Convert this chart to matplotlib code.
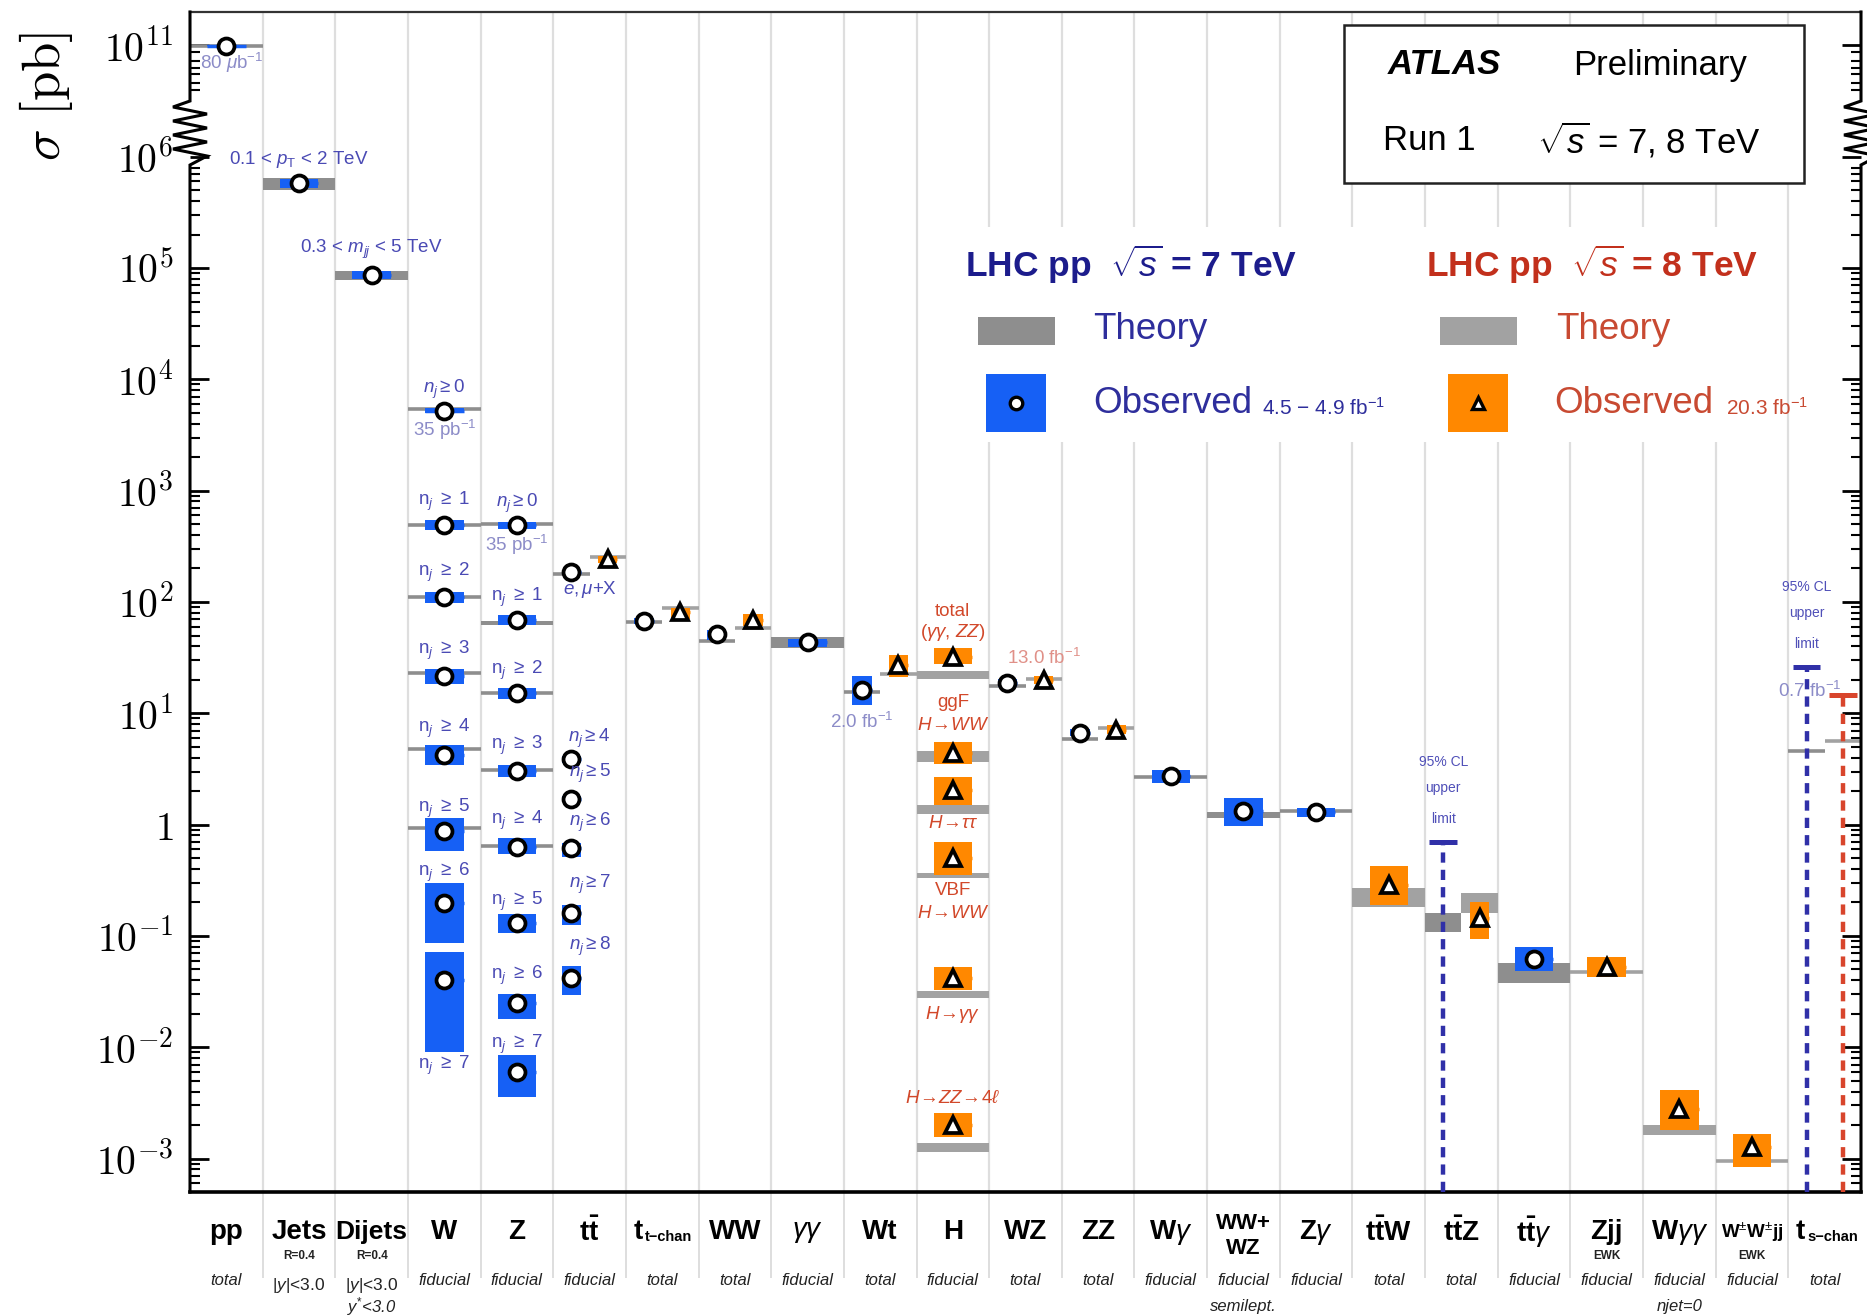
import numpy as np
import matplotlib
matplotlib.use('Agg')
import matplotlib.pyplot as plt
from matplotlib.patches import Rectangle
from matplotlib.lines import Line2D

plt.rcParams['font.family'] = ['Liberation Sans', 'DejaVu Sans']
plt.rcParams['mathtext.fontset'] = 'custom'
plt.rcParams['mathtext.rm'] = 'Liberation Sans'
plt.rcParams['mathtext.it'] = 'Liberation Sans:italic'
plt.rcParams['mathtext.bf'] = 'Liberation Sans:bold'
plt.rcParams['mathtext.sf'] = 'Liberation Sans'

nan = np.nan

# ---------------- categories ----------------
categories = ['pp', 'Jets', 'Dijets', 'W', 'Z', r'$\mathbf{t\bar{t}}$', 't|t\u2212chan',
              'WW', r'$\gamma\gamma$', 'Wt', 'H', 'WZ', 'ZZ', r'W$\gamma$', 'WW+\nWZ', r'Z$\gamma$',
              r'$\mathbf{t\bar{t}}$W', r'$\mathbf{t\bar{t}}$Z', r'$\mathbf{t\bar{t}}\gamma$', 'Zjj',
              r'W$\gamma\gamma$', r'W$^{\pm}$W$^{\pm}$jj', 't|s\u2212chan']
cat_tag = ['', 'R=0.4', 'R=0.4', '', '', '', '', '', '', '', '', '', '', '', '', '', '', '', '',
           'EWK', '', 'EWK', '']
cat_kind = ['total', '', '', 'fiducial', 'fiducial', 'fiducial', 'total', 'total', 'fiducial',
            'total', 'fiducial', 'total', 'total', 'fiducial', 'fiducial', 'fiducial', 'total',
            'total', 'fiducial', 'fiducial', 'fiducial', 'fiducial', 'total']
cat_cut = ['', r'$|y|$<3.0', r'$|y|$<3.0', '', '', '', '', '', '', '', '', '', '', '', '', '', '',
           '', '', '', '', '', '']
cat_cut2 = ['', '', r'$y^{*}$<3.0', '', '', '', '', '', '', '', '', '', '', '', 'semilept.', '',
            '', '', '', '', 'njet=0', '', '']

# ---------------- measurements (pb) ----------------
m_cat = [0, 1, 2,
         3, 3, 3, 3, 3, 3, 3, 3,
         4, 4, 4, 4, 4, 4, 4, 4,
         5, 5, 5, 5, 5, 5, 5,
         6, 6, 7, 7, 8, 9, 9,
         10, 10, 10, 10, 10, 10,
         11, 11, 12, 12, 13, 14, 15, 16, 17, 17, 18, 19, 20, 21, 22, 22]
m_sqrts = [7, 7, 7,
           7, 7, 7, 7, 7, 7, 7, 7,
           7, 7, 7, 7, 7, 7, 7, 7,
           7, 8, 7, 7, 7, 7, 7,
           7, 8, 7, 8, 7, 7, 8,
           8, 8, 8, 8, 8, 8,
           7, 8, 7, 8, 7, 7, 7, 8, 7, 8, 7, 8, 8, 8, 7, 8]
m_obs = [9.5e10, 5.8e5, 8.7e4,
         5.25e3, 494, 111, 21.7, 4.24, 0.877, 0.197, 0.040,
         488, 69.2, 15.2, 3.05, 0.635, 0.132, 0.0248, 0.0060,
         185, 243, 3.85, 1.69, 0.614, 0.16, 0.0417,
         67.9, 82, 51.7, 69, 44, 16.3, 27,
         32.3, 4.4, 2.05, 0.5, 0.042, 0.0020,
         18.8, 20.0, 6.7, 7.1, 2.74, 1.33, 1.30, 0.287, nan, 0.145, 0.062, 0.053, 0.0028,
         0.00126, nan, nan]
m_obs_lo = [9.0e10, 5.25e5, 8.0e4,
            5.0e3, 447, 98, 18.4, 3.40, 0.575, 0.087, 0.0091,
            457, 62.2, 13.4, 2.70, 0.54, 0.107, 0.0178, 0.0036,
            180, 224, 3.6, 1.6, 0.516, 0.126, 0.0295,
            64, 70, 46, 61, 39.8, 12.0, 21.2,
            27.9, 3.52, 1.51, 0.355, 0.0327, 0.00155,
            17.2, 18.3, 6.2, 6.5, 2.37, 0.975, 1.175, 0.190, nan, 0.094, 0.048, 0.043, 0.0018,
            0.00084, nan, nan]
m_obs_hi = [1.0e11, 6.3e5, 9.5e4,
            5.5e3, 541, 123, 25, 5.16, 1.15, 0.30, 0.072,
            525, 76.7, 16.9, 3.44, 0.76, 0.158, 0.030, 0.0085,
            190, 257, 4.1, 1.8, 0.686, 0.19, 0.054,
            72, 89, 56, 78.5, 46.7, 21.6, 33.6,
            38.9, 5.56, 2.69, 0.70, 0.0528, 0.00257,
            20.5, 21.8, 7.2, 7.8, 3.09, 1.75, 1.41, 0.426, nan, 0.202, 0.079, 0.065, 0.0041,
            0.00166, nan, nan]
m_th_lo = [9.5e10, 5.0e5, 7.8e4,
           5.4e3, 490, 111, 23.2, 4.8, 0.927, nan, nan,
           500, 61.7, 15.2, 3.1, 0.64, nan, nan, nan,
           178, 252, nan, nan, nan, nan, nan,
           65.5, 87.9, 45, 58.5, 39, 15.6, 22.5,
           20.4, 3.66, 1.25, 0.33, 0.0278, 0.00115,
           17.7, 20.4, 5.9, 7.36, 2.69, 1.15, 1.33, 0.182, 0.108, 0.16, 0.038, 0.047, 0.00163,
           0.00095, 4.6, 5.6]
m_th_hi = [9.5e10, 6.5e5, 9.4e4,
           5.4e3, 490, 111, 23.2, 4.8, 0.927, nan, nan,
           500, 67.6, 15.2, 3.1, 0.64, nan, nan, nan,
           178, 252, nan, nan, nan, nan, nan,
           65.5, 87.9, 45, 58.5, 48.6, 15.6, 22.5,
           24.0, 4.6, 1.5, 0.37, 0.0318, 0.00138,
           17.7, 20.4, 5.9, 7.36, 2.69, 1.30, 1.33, 0.27, 0.16, 0.243, 0.057, 0.047, 0.0020,
           0.00095, 4.6, 5.6]

# 95% CL upper limits (pb)
lim_cat = [17, 22, 22]
lim_sqrts = [7, 7, 8]
lim_val = [0.70, 26.3, 14.6]

# ---------------- annotations: text, x (category units), sigma (pb), colour key ----------------
annotations = [
    (r'80 $\mu$b$^{-1}$', 0.14, 1.7e10, 'b7l', 'left'),
    (r'0.1 < $p_{\rm T}$ < 2 TeV', 1.5, 9.5e5, 'b7', 'center'),
    (r'0.3 < $m_{jj}$ < 5 TeV', 2.5, 1.46e5, 'b7', 'center'),
    (r'$n_j \geq 0$', 3.5, 8.2e3, 'b7', 'center'),
    (r'35 pb$^{-1}$', 3.5, 3.54e3, 'b7l', 'center'),
    (r'n$_j$ $\geq$ 1', 3.5, 807, 'b7', 'center'),
    (r'n$_j$ $\geq$ 2', 3.5, 184, 'b7', 'center'),
    (r'n$_j$ $\geq$ 3', 3.5, 37, 'b7', 'center'),
    (r'n$_j$ $\geq$ 4', 3.5, 7.3, 'b7', 'center'),
    (r'n$_j$ $\geq$ 5', 3.5, 1.4, 'b7', 'center'),
    (r'n$_j$ $\geq$ 6', 3.5, 0.37, 'b7', 'center'),
    (r'n$_j$ $\geq$ 7', 3.5, 0.00683, 'b7', 'center'),
    (r'$n_j \geq 0$', 4.5, 769, 'b7', 'center'),
    (r'35 pb$^{-1}$', 4.5, 324, 'b7l', 'center'),
    (r'n$_j$ $\geq$ 1', 4.5, 110, 'b7', 'center'),
    (r'n$_j$ $\geq$ 2', 4.5, 24.4, 'b7', 'center'),
    (r'n$_j$ $\geq$ 3', 4.5, 5.16, 'b7', 'center'),
    (r'n$_j$ $\geq$ 4', 4.5, 1.09, 'b7', 'center'),
    (r'n$_j$ $\geq$ 5', 4.5, 0.205, 'b7', 'center'),
    (r'n$_j$ $\geq$ 6', 4.5, 0.0445, 'b7', 'center'),
    (r'n$_j$ $\geq$ 7', 4.5, 0.0106, 'b7', 'center'),
    (r'$e, \mu$+X', 5.5, 130, 'b7', 'center'),
    (r'$n_j \geq 4$', 5.5, 5.98, 'b7', 'center'),
    (r'$n_j \geq 5$', 5.5, 2.86, 'b7', 'center'),
    (r'$n_j \geq 6$', 5.5, 1.04, 'b7', 'center'),
    (r'$n_j \geq 7$', 5.5, 0.29, 'b7', 'center'),
    (r'$n_j \geq 8$', 5.5, 0.080, 'b7', 'center'),
    (r'2.0 fb$^{-1}$', 9.25, 8.3, 'b7l', 'center'),
    ('total', 10.5, 81.7, 'r8', 'center'),
    (r'($\gamma\gamma$, $ZZ$)', 10.5, 53.7, 'r8', 'center'),
    ('ggF', 10.5, 12.5, 'r8', 'center'),
    (r'$H\!\rightarrow\!WW$', 10.5, 7.85, 'r8', 'center'),
    (r'$H\!\rightarrow\!\tau\tau$', 10.5, 1.02, 'r8', 'center'),
    ('VBF', 10.5, 0.256, 'r8', 'center'),
    (r'$H\!\rightarrow\!WW$', 10.5, 0.16, 'r8', 'center'),
    (r'$H\!\rightarrow\!\gamma\gamma$', 10.5, 0.0197, 'r8', 'center'),
    (r'$H\!\rightarrow\!ZZ\!\rightarrow\!4\ell$', 10.5, 0.0035, 'r8', 'center'),
    (r'13.0 fb$^{-1}$', 11.75, 31.2, 'r8l', 'center'),
    (r'0.7 fb$^{-1}$', 22.3, 16.0, 'b7l', 'center'),
]
cl_text = ['95% CL', 'upper', 'limit']
cl_pos = [(17.25, [3.66, 2.13, 1.12]), (22.25, [137, 79.6, 42])]

# ---------------- styles ----------------
OBS7, OBS8 = '#1660f5', '#ff8800'
TH7, TH8 = '#8e8e8e', '#a2a2a2'
LIM7, LIM8 = '#3030a8', '#d8452c'
TXT = {'b7': '#4a4ab4', 'b7l': '#8c8cc8', 'r8': '#d2482a', 'r8l': '#e09088'}

W_PX, H_PX = 1867, 1315
fig = plt.figure(figsize=(W_PX / 100, H_PX / 100), dpi=100)
AX_L, AX_R, AX_T, AX_B = 190, 1861, 12, 1192
ax = fig.add_axes([AX_L / W_PX, (H_PX - AX_B) / H_PX, (AX_R - AX_L) / W_PX, (AX_B - AX_T) / H_PX])

BREAK, COMP = 6.0, 0.2


def fwd(y):
    l = np.log10(np.clip(np.asarray(y, float), 1e-300, None))
    return np.where(l <= BREAK, l, BREAK + (l - BREAK) * COMP)


def inv(f):
    f = np.asarray(f, float)
    with np.errstate(over='ignore', invalid='ignore'):
        return np.where(f <= BREAK, 10.0 ** f, 10.0 ** (BREAK + (f - BREAK) / COMP))


ax.set_yscale('function', functions=(fwd, inv))
ncat = len(categories)
ax.set_xlim(0, ncat)
ymin, ymax = float(inv(-3.30)), float(inv(7.30))
ax.set_ylim(ymin, ymax)

# split columns that hold both energies
both = set()
for c in set(m_cat) | set(lim_cat):
    es = {e for cc, e in zip(m_cat + lim_cat, m_sqrts + lim_sqrts) if cc == c}
    if es == {7, 8}:
        both.add(c)


def slot(c, e):
    if c in both:
        return (c, c + 0.5) if e == 7 else (c + 0.5, c + 1)
    return (c, c + 1)


# grid / separators
for k in range(1, ncat):
    ax.axvline(k, color='#dedede', lw=1.6, zorder=0.5)
ax.vlines(range(1, ncat), -0.073, 0, transform=ax.get_xaxis_transform(), clip_on=False,
          color='#d8d8d8', lw=1.2)

# measurements
for c, e, ob, lo, hi, tl, th in zip(m_cat, m_sqrts, m_obs, m_obs_lo, m_obs_hi, m_th_lo, m_th_hi):
    x0, x1 = slot(c, e)
    xc, w = (x0 + x1) / 2, x1 - x0
    thc = TH7 if e == 7 else TH8
    oc = OBS7 if e == 7 else OBS8
    if not np.isnan(tl):
        ax.fill_between([x0, x1], [tl, tl], [th, th], color=thc, lw=0, zorder=2)
        ax.hlines(np.sqrt(tl * th), x0, x1, color=thc, lw=2.6, zorder=2, capstyle='butt')
    if not np.isnan(ob):
        bw = 0.53 * w
        ax.fill_between([xc - bw / 2, xc + bw / 2], [lo, lo], [hi, hi], color=oc, lw=0, zorder=3)
        ax.hlines(ob, xc - bw / 2, xc + bw / 2, color=oc, lw=2.5, zorder=3, capstyle='butt')
        if e == 7:
            ax.plot(xc, ob, 'o', ms=11.5, mfc='white', mec='black', mew=2.7, zorder=5)
        else:
            ax.plot(xc, ob, '^', ms=11.5, mfc='white', mec='black', mew=2.7, zorder=5)

# upper limits
for c, e, v in zip(lim_cat, lim_sqrts, lim_val):
    x0, x1 = slot(c, e)
    xc = (x0 + x1) / 2
    col = LIM7 if e == 7 else LIM8
    ax.plot([xc, xc], [ymin, v], ls=(0, (2.3, 1.6)), lw=3.2, color=col, zorder=4,
            dash_capstyle='butt')
    ax.hlines(v, xc - 0.19, xc + 0.19, color=col, lw=3.6, zorder=4, capstyle='butt')

# annotations
for txt, x, y, ck, ha in annotations:
    ax.text(x, y, txt, color=TXT[ck], fontsize=13.5, ha=ha, va='center', zorder=6)
for x, ys in cl_pos:
    for t, y in zip(cl_text, ys):
        ax.text(x, y, t, color='#5050b8', fontsize=10, ha='center', va='center', zorder=6)

# y axis
major = [1e-3, 1e-2, 1e-1, 1, 1e1, 1e2, 1e3, 1e4, 1e5, 1e6, 1e11]
major_lab = [r'$10^{-3}$', r'$10^{-2}$', r'$10^{-1}$', r'$1$', r'$10^{1}$', r'$10^{2}$',
             r'$10^{3}$', r'$10^{4}$', r'$10^{5}$', r'$10^{6}$', r'$10^{11}$']
minor = [m * 10.0 ** k for k in range(-4, 6) for m in range(2, 10)
         if ymin < m * 10.0 ** k < 8.5e5] + [1e9, 2e9, 5e9, 1e10, 2e10, 5e10]
ax.set_yticks(major)
ax.set_yticklabels(major_lab)
ax.set_yticks(minor, minor=True)
ax.yaxis.set_minor_formatter(matplotlib.ticker.NullFormatter())
ax.tick_params(axis='y', which='major', direction='in', length=14, width=2, left=True,
               right=True, pad=12, labelsize=28.5)
ax.tick_params(axis='y', which='minor', direction='in', length=7, width=1.5, left=True,
               right=True)
for t in ax.get_yticklabels():
    t.set_math_fontfamily('cm')
ax.set_xticks([])
ax.tick_params(axis='x', bottom=False, labelbottom=False)

for s in ('left', 'right'):
    ax.spines[s].set_visible(False)
ax.spines['top'].set_linewidth(1.6)
ax.spines['top'].set_color('#333333')
ax.spines['bottom'].set_linewidth(2.6)


def yaf(py):
    return (AX_B - py) / (AX_B - AX_T)


zig_py = [AX_T, 101, 107, 114, 121, 128, 135, 142, 149, 156, 165, AX_B]
zig_off = [0, 0, -1, 1, -1, 1, -1, 1, -1, 1, 0, 0]
dx = 17 / (AX_R - AX_L)
for side in (0, 1):
    ax.add_line(Line2D([side + o * dx for o in zig_off], [yaf(p) for p in zig_py],
                       transform=ax.transAxes, clip_on=False, color='black', lw=2.2,
                       solid_joinstyle='miter', zorder=6))

# category labels
xt = ax.get_xaxis_transform()
for i in range(ncat):
    xc = i + 0.5
    name = categories[i]
    if '\n' in name:
        l1, l2 = name.split('\n')
        ax.text(xc, -0.0270, l1, transform=xt, ha='center', va='center', fontsize=16,
                fontweight='bold')
        ax.text(xc, -0.0475, l2, transform=xt, ha='center', va='center', fontsize=16,
                fontweight='bold')
    elif '|' in name:
        base, sub = name.split('|')
        ax.text(i + 0.17, -0.034, base, transform=xt, ha='center', va='center', fontsize=20,
                fontweight='bold')
        ax.text(i + 0.26, -0.038, sub, transform=xt, ha='left', va='center', fontsize=10.5,
                fontweight='bold')
    else:
        if 'pm' in name:
            fs = 13.5
        elif name == 'Dijets':
            fs = 19
        else:
            fs = 20
        ax.text(xc, -0.034, name, transform=xt, ha='center', va='center', fontsize=fs,
                fontweight='bold')
    if cat_tag[i]:
        ax.text(xc, -0.0545, cat_tag[i], transform=xt, ha='center', va='center', fontsize=8.5,
                fontweight='bold', color='#222222')
    if cat_kind[i]:
        ax.text(xc, -0.0746, cat_kind[i], transform=xt, ha='center', va='center', fontsize=12,
                style='italic', color='#222222')
    if cat_cut[i]:
        ax.text(xc, -0.0790, cat_cut[i], transform=xt, ha='center', va='center', fontsize=12.5,
                color='#222222')
    if cat_cut2[i]:
        ax.text(xc, -0.0970, cat_cut2[i], transform=xt, ha='center', va='center', fontsize=12,
                style='italic', color='#222222')


# ---------------- figure-level decorations ----------------
def fx(px):
    return px / W_PX


def fy(py):
    return 1 - py / H_PX


fig.text(fx(46), fy(96), r'$\sigma\ [\mathrm{pb}]$', rotation=90, fontsize=38, ha='center',
         va='center', math_fontfamily='cm')

# ATLAS box
fig.add_artist(Rectangle((fx(1344), fy(183)), fx(1804) - fx(1344), fy(25) - fy(183),
                         transform=fig.transFigure, facecolor='white', edgecolor='#222222',
                         lw=1.8, zorder=2))
fig.text(fx(1444), fy(65), 'ATLAS', fontsize=25, fontweight='bold', style='italic',
         ha='center', va='center', zorder=3)
fig.text(fx(1660), fy(65), 'Preliminary', fontsize=25, ha='center', va='center', zorder=3)
fig.text(fx(1429), fy(140), 'Run 1', fontsize=25, ha='center', va='center', zorder=3)
fig.text(fx(1649), fy(140), r'$\sqrt{s}$ = 7, 8 TeV', fontsize=25, ha='center', va='center',
         zorder=3)

# legend
fig.add_artist(Rectangle((fx(950), fy(442)), fx(1768) - fx(950), fy(227) - fy(442),
                         transform=fig.transFigure, facecolor='white', edgecolor='none',
                         zorder=1.5))
N7, N8 = '#1c1c8c', '#c2301c'
T7, T8 = '#2e2e9c', '#c84a32'
fig.text(fx(1131), fy(264), r'LHC pp  $\sqrt{s}$ = 7 TeV', fontsize=25.5, fontweight='bold',
         color=N7, ha='center', va='center', zorder=3)
fig.text(fx(1592), fy(264), r'LHC pp  $\sqrt{s}$ = 8 TeV', fontsize=25.5, fontweight='bold',
         color=N8, ha='center', va='center', zorder=3)
for (gx0, gx1, gc) in [(978, 1055, TH7), (1440, 1517, TH8)]:
    fig.add_artist(Rectangle((fx(gx0), fy(345)), fx(gx1) - fx(gx0), fy(317) - fy(345),
                             transform=fig.transFigure, facecolor=gc, edgecolor='none', zorder=2))
for (bx0, bx1, bc, mk) in [(986, 1046, OBS7, 'o'), (1448, 1508, OBS8, '^')]:
    fig.add_artist(Rectangle((fx(bx0), fy(432)), fx(bx1) - fx(bx0), fy(374) - fy(432),
                             transform=fig.transFigure, facecolor=bc, edgecolor='none', zorder=2))
    fig.add_artist(Line2D([fx((bx0 + bx1) / 2)], [fy(403)], marker=mk, ms=9, mfc='white',
                          mec='black', mew=2.4, transform=fig.transFigure, zorder=3))
fig.text(fx(1093), fy(330), 'Theory', fontsize=26.5, color=T7, ha='left', va='center', zorder=3)
fig.text(fx(1556), fy(330), 'Theory', fontsize=26.5, color=T8, ha='left', va='center', zorder=3)
fig.text(fx(1093), fy(404), 'Observed', fontsize=26.5, color=T7, ha='left', va='center', zorder=3)
fig.text(fx(1554), fy(404), 'Observed', fontsize=26.5, color=T8, ha='left', va='center', zorder=3)
fig.text(fx(1262), fy(408), r'4.5 $-$ 4.9 fb$^{-1}$', fontsize=15, color=T7, ha='left',
         va='center', zorder=3)
fig.text(fx(1726), fy(408), r'20.3 fb$^{-1}$', fontsize=15, color=T8, ha='left', va='center',
         zorder=3)

fig.savefig('out.png', dpi=100, facecolor='white')
